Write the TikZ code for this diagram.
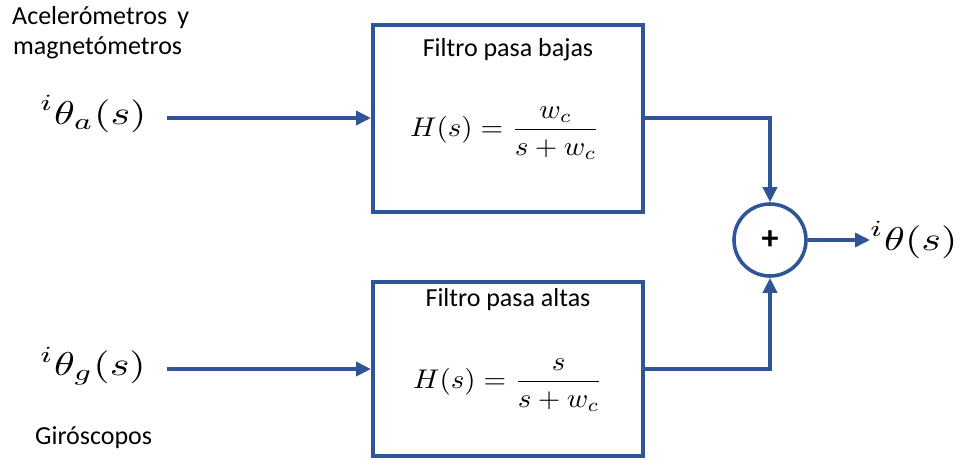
\documentclass[tikz,border=0pt]{standalone}
\usepackage{graphicx}
\usepackage{fontspec}
\setmainfont{Carlito}
\usetikzlibrary{arrows.meta}
\definecolor{lineblue}{RGB}{47,85,151}
% display math enlarged by horizontal and vertical factors
\newcommand{\bigmath}[3]{\scalebox{#1}[#2]{$\displaystyle #3$}}
\begin{document}
\begin{tikzpicture}[x=1pt,y=-1pt,
  wire/.style={draw=lineblue,line width=3.6pt},
  sig/.style={wire,-{Triangle[length=15pt,width=14pt]}},
  filterbox/.style={draw=lineblue,line width=4pt,fill=white,minimum width=270pt,inner sep=0pt},
  caption/.style={font=\fontsize{26}{31}\selectfont,inner sep=0pt,align=left},
  eqn/.style={inner sep=0pt},
  siglabel/.style={inner sep=0pt}]
\useasboundingbox (0,0) rectangle (969,459);

% filter blocks
\node[filterbox,minimum height=187pt] (lp) at (508,118.5) {};
\node[filterbox,minimum height=174pt] (hp) at (508,369) {};
\node[caption] (lptitle) at (508,50) {Filtro pasa bajas};
\node[caption] (hptitle) at (508,300) {Filtro pasa altas};
\node[eqn] (lpeq) at (505,133) {\bigmath{2.9}{2.7}{H(s)=\frac{w_c}{s+w_c}}};
\node[eqn] (hpeq) at (508,385) {\bigmath{2.9}{2.7}{H(s)=\frac{s}{s+w_c}}};

% summing junction
\node[circle,draw=lineblue,line width=3.6pt,minimum size=72pt,inner sep=0pt,
      font=\fontsize{34}{38}\selectfont\bfseries] (sum) at (770,240) {+};

% sensor captions and signals
\node[caption,anchor=west] (acc) at (12,18) {Acelerómetros\, y};
\node[caption,anchor=west] (mag) at (13,48) {magnetómetros};
\node[caption,anchor=west] (gyr) at (35,438) {Giróscopos};
\node[siglabel,anchor=west] (tha) at (40,114) {\bigmath{4.2}{3.3}{{}^{i}\theta_a(s)}};
\node[siglabel,anchor=west] (thg) at (40,366) {\bigmath{4.2}{3.3}{{}^{i}\theta_g(s)}};
\node[siglabel,anchor=west] (thout) at (870,240) {\bigmath{4.2}{3.3}{{}^{i}\theta(s)}};

\coordinate (ina) at (167,118);
\coordinate (ing) at (167,369);

% connectors
\draw[sig] (ina) -- (lp.west |- ina);
\draw[sig] (ing) -- (hp.west |- ing);
\draw[sig] (lp.east |- ina) -| (sum.north);
\draw[sig] (hp.east |- ing) -| (sum.south);
\draw[sig] (sum.east) -- (thout.west);
\end{tikzpicture}
\end{document}
